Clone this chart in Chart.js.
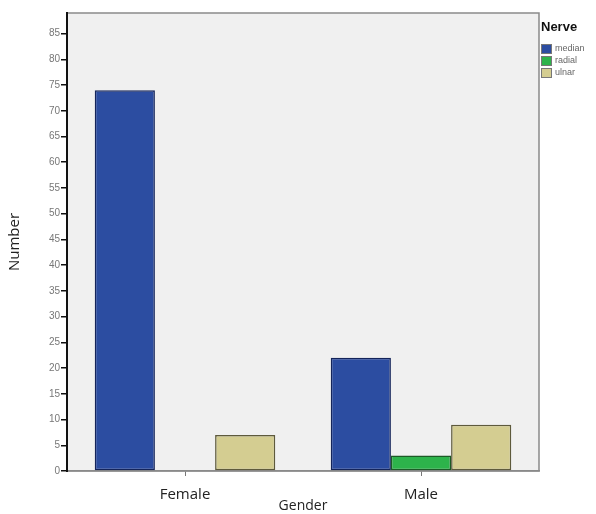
<!DOCTYPE html>
<html>
<head>
<meta charset="utf-8">
<script src="https://cdn.jsdelivr.net/npm/chart.js@4/dist/chart.umd.min.js"></script>
<style>
html,body{margin:0;padding:0;background:#fff;}
#wrap{position:relative;width:596px;height:514px;}
</style>
</head>
<body>
<div id="wrap"><canvas id="c" width="596" height="514"></canvas></div>
<script>
const categories = ["Female", "Male"];
const seriesNames = ["median", "radial", "ulnar"];
const medianValues = [74, 22];
const radialValues = [0, 3];
const ulnarValues = [7, 9];
const yTicks = [0,5,10,15,20,25,30,35,40,45,50,55,60,65,70,75,80,85];
const legendTitle = "Nerve";

const fills = ["#2c4da1", "#2db34b", "#d4cd91"];
const borders = ["#14245a", "#1c5a26", "#5e5a3c"];
const seriesValues = [medianValues, radialValues, ulnarValues];

const framePlugin = {
  id: 'frame',
  beforeDraw(chart) {
    const {ctx, chartArea: a} = chart;
    ctx.save();
    ctx.fillStyle = '#f0f0f0';
    ctx.fillRect(a.left, a.top, a.right - a.left, a.bottom - a.top);
    ctx.strokeStyle = '#8a8a8a';
    ctx.lineWidth = 1.5;
    ctx.strokeRect(a.left, a.top, a.right - a.left, a.bottom - a.top);
    ctx.restore();
  },
  afterDraw(chart) {
    const {ctx, chartArea: a} = chart;
    ctx.save();
    ctx.strokeStyle = '#111';
    ctx.lineWidth = 2;
    ctx.beginPath(); ctx.moveTo(a.left, a.top); ctx.lineTo(a.left, a.bottom + 1); ctx.stroke();
    const x0 = a.right + 2;
    ctx.fillStyle = '#111';
    ctx.font = 'bold 13px "Liberation Sans", Arial, sans-serif';
    ctx.textBaseline = 'middle';
    ctx.textAlign = 'left';
    ctx.fillText(legendTitle, x0, 27);
    ctx.font = '9px "Liberation Sans", Arial, sans-serif';
    chart.data.datasets.forEach((ds, i) => {
      const y = 44 + i * 12;
      ctx.fillStyle = ds.backgroundColor;
      ctx.fillRect(x0, y, 11, 10);
      ctx.strokeStyle = '#777';
      ctx.lineWidth = 1;
      ctx.strokeRect(x0 + 0.5, y + 0.5, 10, 9);
      ctx.fillStyle = '#666';
      ctx.fillText(ds.label, x0 + 14, y + 5);
    });
    ctx.restore();
  }
};

new Chart(document.getElementById('c'), {
  type: 'bar',
  data: {
    labels: categories,
    datasets: seriesNames.map((n, i) => ({
      label: n,
      data: seriesValues[i],
      backgroundColor: fills[i],
      borderColor: borders[i],
      borderWidth: 1.5,
      borderSkipped: false,
      categoryPercentage: 0.765,
      barPercentage: 1.0
    }))
  },
  options: {
    responsive: false,
    animation: false,
    devicePixelRatio: 1,
    layout: { padding: { top: 13, right: 57, left: 6, bottom: 0 } },
    plugins: { legend: { display: false }, tooltip: { enabled: false } },
    scales: {
      x: {
        grid: { display: true, offset: false, drawOnChartArea: false, drawTicks: true, tickLength: 5, color: '#777', lineWidth: 1 },
        border: { display: true, color: '#8a8a8a', width: 1.5 },
        ticks: { color: '#222', font: { family: '"Open Sans", sans-serif', size: 15 }, padding: 10 },
        title: { display: true, text: 'Gender', color: '#222', font: { family: '"Open Sans", sans-serif', size: 14 }, padding: { top: 0, bottom: 0 } },
        afterFit(s) { s.height = 43; }
      },
      y: {
        min: 0,
        max: 89,
        afterBuildTicks(s) { s.ticks = yTicks.map(v => ({ value: v })); },
        grid: { display: true, drawOnChartArea: false, drawTicks: true, tickLength: 6, color: '#111', lineWidth: 1.5 },
        border: { display: true, color: '#111', width: 2 },
        ticks: { color: '#777', font: { family: '"Liberation Sans", Arial, sans-serif', size: 10 }, padding: 1 },
        title: { display: true, text: 'Number', color: '#222', font: { family: '"Open Sans", sans-serif', size: 15 }, padding: { top: 0, bottom: 4 } },
        afterFit(s) { s.width = 61; }
      }
    }
  },
  plugins: [framePlugin]
});
</script>
</body>
</html>
